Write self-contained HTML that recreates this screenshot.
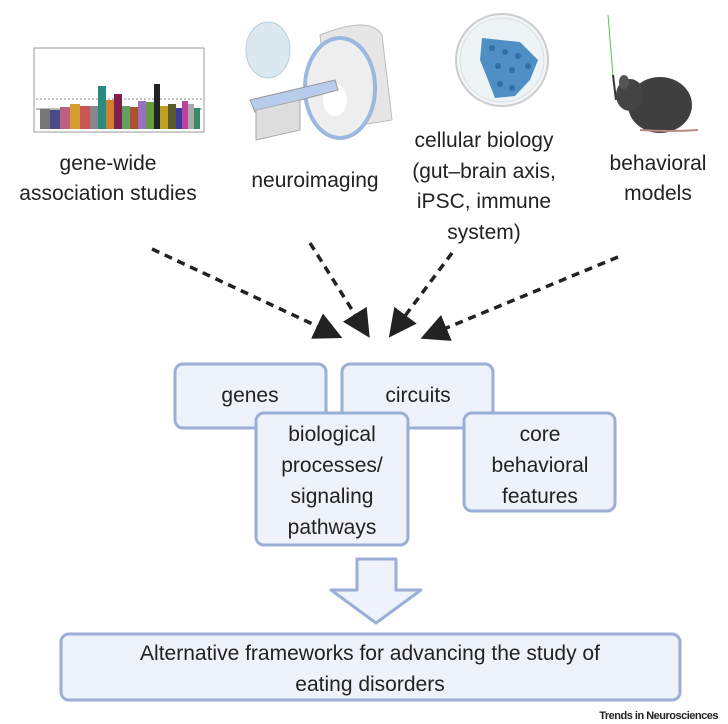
<!DOCTYPE html>
<html><head><style>
html,body{margin:0;padding:0;background:#fff;}
svg{display:block;}
text{font-family:"Liberation Sans",sans-serif;fill:#222;}
</style></head><body>
<svg width="728" height="724" viewBox="0 0 728 724" xmlns="http://www.w3.org/2000/svg">
<defs>
<marker id="ah" markerWidth="8" markerHeight="8" refX="6" refY="4" orient="auto" markerUnits="strokeWidth">
<path d="M0,0 L8,4 L0,8 z" fill="#222"/></marker>
</defs>
<!-- GWAS plot -->
<g transform="translate(0,-24)">
<rect x="34" y="72" width="170" height="84" fill="#fff" stroke="#999" stroke-width="1"/>
<line x1="36" y1="123" x2="202" y2="123" stroke="#666" stroke-dasharray="2,2" stroke-width="0.7"/>
<line x1="36" y1="133" x2="202" y2="133" stroke="#444" stroke-width="0.7"/>
<rect x="40" y="133" width="10" height="20" fill="#777"/>
<rect x="50" y="134" width="10" height="19" fill="#4a4a8a"/>
<rect x="60" y="131" width="10" height="22" fill="#c06080"/>
<rect x="70" y="128" width="10" height="25" fill="#d4a030"/>
<rect x="80" y="130" width="10" height="23" fill="#cc5555"/>
<rect x="90" y="130" width="8" height="23" fill="#888"/>
<rect x="98" y="110" width="8" height="43" fill="#2a8a80"/>
<rect x="106" y="124" width="8" height="29" fill="#d08030"/>
<rect x="114" y="118" width="8" height="35" fill="#802050"/>
<rect x="122" y="130" width="8" height="23" fill="#60a060"/>
<rect x="130" y="131" width="8" height="22" fill="#b05030"/>
<rect x="138" y="125" width="8" height="28" fill="#9a70c0"/>
<rect x="146" y="126" width="8" height="27" fill="#6a9a40"/>
<rect x="154" y="108" width="6" height="45" fill="#222"/>
<rect x="160" y="130" width="8" height="23" fill="#c0a020"/>
<rect x="168" y="128" width="8" height="25" fill="#5a5a30"/>
<rect x="176" y="132" width="6" height="21" fill="#3a3aa0"/>
<rect x="182" y="125" width="6" height="28" fill="#c040a0"/>
<rect x="188" y="128" width="6" height="25" fill="#aaa"/>
<rect x="194" y="132" width="6" height="21" fill="#3a8a6a"/>
</g>
<!-- MRI -->
<ellipse cx="268" cy="50" rx="22" ry="28" fill="#dbe8ef" stroke="#b8cfdc"/>
<path d="M320 35 Q370 15 382 35 L392 120 L330 130 Z" fill="#e6e6e6" stroke="#bbb"/>
<ellipse cx="340" cy="88" rx="35" ry="50" fill="#eee" stroke="#9ab8e0" stroke-width="4"/>
<ellipse cx="335" cy="100" rx="12" ry="16" fill="#fff"/>
<path d="M250 100 L335 80 L338 90 L255 112 Z" fill="#b8cdee" stroke="#999"/>
<path d="M256 110 L300 100 L300 130 L256 140 Z" fill="#ddd" stroke="#aaa"/>
<!-- Petri dish -->
<circle cx="502" cy="60" r="46" fill="#f2f6f8" stroke="#ccc" stroke-width="2"/>
<circle cx="502" cy="60" r="42" fill="#eef3f6" stroke="#ddd"/>
<path d="M482 38 L520 42 L538 60 L530 80 L515 96 L495 98 L488 80 L480 60 Z" fill="#4f8fc6"/>
<g fill="#2f6fa6"><circle cx="492" cy="48" r="3"/><circle cx="505" cy="52" r="3"/><circle cx="518" cy="56" r="3"/><circle cx="498" cy="66" r="3"/><circle cx="512" cy="70" r="3"/><circle cx="528" cy="66" r="3"/><circle cx="500" cy="84" r="3"/><circle cx="512" cy="88" r="3"/></g>
<!-- Mouse -->
<line x1="608" y1="15" x2="613" y2="75" stroke="#4c4" stroke-width="1"/>
<line x1="613" y1="75" x2="616" y2="100" stroke="#333" stroke-width="2"/>
<ellipse cx="660" cy="105" rx="32" ry="28" fill="#3f3f3f"/>
<ellipse cx="630" cy="95" rx="14" ry="16" fill="#444"/>
<ellipse cx="624" cy="82" rx="5" ry="7" fill="#555"/>
<path d="M640 130 Q670 132 698 130" stroke="#b88" stroke-width="2" fill="none"/>
<!-- labels -->
<g font-size="21" text-anchor="middle">
<text x="108" y="170">gene-wide</text>
<text x="108" y="200">association studies</text>
<text x="315" y="187">neuroimaging</text>
<text x="484" y="147">cellular biology</text>
<text x="484" y="178">(gut–brain axis,</text>
<text x="484" y="208">iPSC, immune</text>
<text x="484" y="239">system)</text>
<text x="658" y="170">behavioral</text>
<text x="658" y="200">models</text>
</g>
<!-- dashed arrows -->
<g stroke="#222" stroke-width="3.5" stroke-dasharray="8,6" fill="none">
<line x1="152" y1="249" x2="336" y2="335" marker-end="url(#ah)"/>
<line x1="310" y1="243" x2="366" y2="332" marker-end="url(#ah)"/>
<line x1="452" y1="253" x2="393" y2="332" marker-end="url(#ah)"/>
<line x1="618" y1="257" x2="427" y2="336" marker-end="url(#ah)"/>
</g>
<!-- boxes -->
<g fill="#edf2fb" stroke="#9aaed6" stroke-width="3">
<rect x="175" y="364" width="151" height="64" rx="8"/>
<rect x="342" y="364" width="151" height="64" rx="8"/>
<rect x="256" y="413" width="152" height="132" rx="8"/>
<rect x="464" y="413" width="151" height="98" rx="8"/>
</g>
<g font-size="21" text-anchor="middle">
<text x="250" y="402">genes</text>
<text x="418" y="402">circuits</text>
<text x="332" y="441">biological</text>
<text x="332" y="472">processes/</text>
<text x="332" y="503">signaling</text>
<text x="332" y="534">pathways</text>
<text x="540" y="441">core</text>
<text x="540" y="472">behavioral</text>
<text x="540" y="503">features</text>
</g>
<!-- hollow arrow -->
<path d="M357 559 L396 559 L396 590 L421 590 L376 623 L331 590 L357 590 Z" fill="#edf2fb" stroke="#9aaed6" stroke-width="3" stroke-linejoin="round"/>
<rect x="61" y="634" width="619" height="66" rx="8" fill="#edf2fb" stroke="#9aaed6" stroke-width="3"/>
<g font-size="21" text-anchor="middle">
<text x="370" y="660">Alternative frameworks for advancing the study of</text>
<text x="370" y="691">eating disorders</text>
</g>
<text x="718" y="719" font-size="11" font-weight="bold" text-anchor="end" letter-spacing="-0.5">Trends in Neurosciences</text>
</svg>
</body></html>
